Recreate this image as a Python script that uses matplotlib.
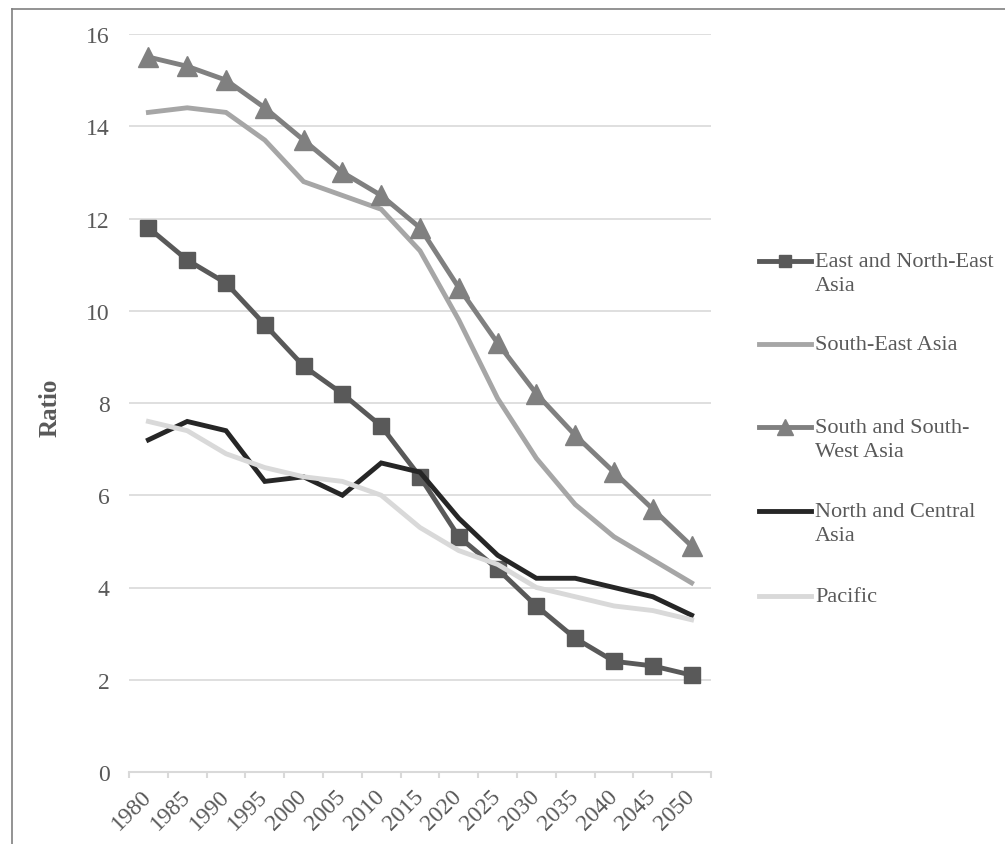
import matplotlib
matplotlib.use('Agg')
import matplotlib.pyplot as plt
from matplotlib.lines import Line2D

plt.rcParams['font.family'] = ['Liberation Serif', 'DejaVu Serif']

years = ['1980', '1985', '1990', '1995', '2000', '2005', '2010', '2015',
         '2020', '2025', '2030', '2035', '2040', '2045', '2050']

east_ne = [11.8, 11.1, 10.6, 9.7, 8.8, 8.2, 7.5, 6.4, 5.1, 4.4, 3.6, 2.9, 2.4, 2.3, 2.1]
south_east = [14.3, 14.4, 14.3, 13.7, 12.8, 12.5, 12.2, 11.3, 9.8, 8.1, 6.8, 5.8, 5.1, 4.6, 4.1]
south_sw = [15.5, 15.3, 15.0, 14.4, 13.7, 13.0, 12.5, 11.8, 10.5, 9.3, 8.2, 7.3, 6.5, 5.7, 4.9]
north_central = [7.2, 7.6, 7.4, 6.3, 6.4, 6.0, 6.7, 6.5, 5.5, 4.7, 4.2, 4.2, 4.0, 3.8, 3.4]
pacific = [7.6, 7.4, 6.9, 6.6, 6.4, 6.3, 6.0, 5.3, 4.8, 4.5, 4.0, 3.8, 3.6, 3.5, 3.3]

series_names = ['East and North-East\nAsia', 'South-East Asia',
                'South and South-\nWest Asia', 'North and Central\nAsia', 'Pacific']

TXT = '#595959'
styles = [
    dict(color='#595959', marker='s', markersize=11),
    dict(color='#a6a6a6', marker=None, markersize=0),
    dict(color='#808080', marker='^', markersize=15),
    dict(color='#262626', marker=None, markersize=0),
    dict(color='#d9d9d9', marker=None, markersize=0),
]
# draw order: back to front roughly like the original
order = [4, 1, 2, 3, 0]
data = [east_ne, south_east, south_sw, north_central, pacific]

fig = plt.figure(figsize=(10.05, 8.45), dpi=100)
ax = fig.add_axes([129 / 1005, 1 - 773 / 845, (711 - 129) / 1005, (773 - 35) / 845])

x = list(range(len(years)))
for i in order:
    st = styles[i]
    ax.plot(x, data[i], color=st['color'], lw=3.5, marker=st['marker'],
            markersize=st['markersize'], solid_joinstyle='miter', zorder=3 + i * 0.1)

ax.set_xlim(-0.5, len(years) - 0.5)
ax.set_ylim(0, 16)
ax.set_yticks(range(0, 17, 2))
ax.grid(axis='y', color='#d9d9d9', lw=1.2)
ax.set_axisbelow(True)
for s in ['top', 'right', 'left']:
    ax.spines[s].set_visible(False)
ax.spines['bottom'].set_color('#d9d9d9')
ax.spines['bottom'].set_linewidth(1.5)

ax.set_xticks(x)
ax.set_xticklabels(years, rotation=45, ha='right', va='center', rotation_mode='anchor')
ax.set_xticks([v - 0.5 for v in range(len(years) + 1)], minor=True)
ax.tick_params(axis='x', which='major', length=0, pad=15, labelsize=17, labelcolor=TXT)
ax.tick_params(axis='x', which='minor', length=4, width=1.5, color='#d9d9d9')
ax.tick_params(axis='y', length=0, pad=14, labelsize=17, labelcolor=TXT)

fig.text(50 / 1005, 1 - 408 / 845, 'Ratio', rotation=90, ha='center', va='center',
         fontsize=18, fontweight='bold', color=TXT)

# legend, Excel style: handle aligned with first text line
legend_y = [262, 345, 428, 512, 597]
for i, yy in enumerate(legend_y):
    st = styles[i]
    yf = 1 - yy / 845
    fig.add_artist(Line2D([759 / 1005, 811 / 1005], [yf, yf], color=st['color'], lw=3.5,
                          transform=fig.transFigure))
    if st['marker']:
        fig.add_artist(Line2D([785 / 1005], [yf], color=st['color'], marker=st['marker'],
                              markersize=st['markersize'] * 0.75, lw=0,
                              transform=fig.transFigure))
    fig.text(815 / 1005, 1 - (yy - 9) / 845, series_names[i], ha='left', va='top',
             fontsize=16, color=TXT, linespacing=1.38)

# outer border (top and left visible)
fig.add_artist(Line2D([12 / 1005, 1], [1 - 10 / 845, 1 - 10 / 845], color='#808080', lw=1.2,
                      transform=fig.transFigure))
fig.add_artist(Line2D([12 / 1005, 12 / 1005], [0, 1 - 10 / 845], color='#808080', lw=1.2,
                      transform=fig.transFigure))

fig.savefig('out.png', dpi=100)
